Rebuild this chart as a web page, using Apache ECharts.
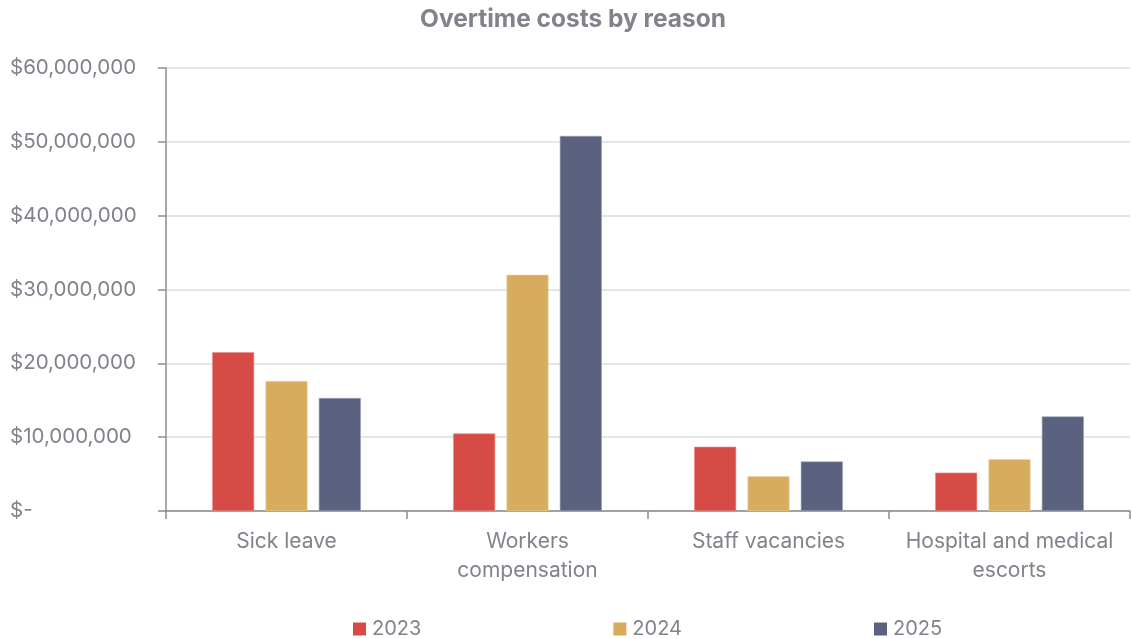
<!DOCTYPE html>
<html>
<head>
<meta charset="utf-8">
<script src="https://cdn.jsdelivr.net/npm/echarts@6/dist/echarts.min.js"></script>
<style>
  html, body { margin: 0; padding: 0; background: #ffffff; }
  #chart { width: 1132px; height: 639px; }
</style>
</head>
<body>
<div id="chart"></div>
<script>
const categories = ['Sick leave', 'Workers\ncompensation', 'Staff vacancies', 'Hospital and medical\nescorts'];
const years = ['2023', '2024', '2025'];
const values2023 = [21500000, 10500000, 8700000, 5200000];
const values2024 = [17600000, 32000000, 4700000, 7000000];
const values2025 = [15300000, 50800000, 6700000, 12800000];
const colors = ['#D64B45', '#D8AC5E', '#5A627F'];

const textColor = '#82828c';
const axisColor = '#8c8c8e';
const fontFamily = 'Inter, "Open Sans", sans-serif';

function money(v) {
  if (v === 0) return '$-';
  return '$' + v.toLocaleString('en-US');
}

const chart = echarts.init(document.getElementById('chart'));
chart.setOption({
  backgroundColor: '#ffffff',
  animation: false,
  color: colors,
  title: {
    text: 'Overtime costs by reason',
    left: 420,
    top: 7,
    padding: 0,
    textStyle: { color: textColor, fontSize: 24.5, fontWeight: 'bold', fontFamily: fontFamily }
  },
  legend: {
    left: 353,
    top: 619,
    padding: 0,
    itemWidth: 13,
    itemHeight: 13,
    itemGap: 192,
    icon: 'rect',
    itemStyle: { borderWidth: 0 },
    textStyle: { color: textColor, fontSize: 20, fontFamily: fontFamily, padding: [0, 0, 0, 1] },
    data: years
  },
  grid: { left: 166, right: 2, top: 68, bottom: 128, containLabel: false },
  xAxis: {
    type: 'category',
    data: categories,
    boundaryGap: true,
    axisLine: { show: true, lineStyle: { color: axisColor, width: 1.5 } },
    axisTick: { show: true, length: 8, lineStyle: { color: axisColor, width: 1.5 } },
    axisLabel: {
      color: textColor, fontSize: 21, fontFamily: fontFamily,
      margin: 16, lineHeight: 29, interval: 0
    },
    splitLine: { show: false }
  },
  yAxis: {
    type: 'value',
    min: 0,
    max: 60000000,
    interval: 10000000,
    axisLine: { show: true, lineStyle: { color: axisColor, width: 1.5 } },
    axisTick: { show: true, length: 8, lineStyle: { color: axisColor, width: 1.5 } },
    axisLabel: {
      color: textColor, fontSize: 20.5, fontFamily: fontFamily,
      align: 'left', margin: 156,
      formatter: money
    },
    splitLine: { show: true, lineStyle: { color: '#dcdcdc', width: 1.5 } }
  },
  series: [
    { name: years[0], type: 'bar', data: values2023, barWidth: 42, barGap: '27%', itemStyle: { borderColor: '#e88a86', borderWidth: 0.6 } },
    { name: years[1], type: 'bar', data: values2024, barWidth: 42, barGap: '27%', itemStyle: { borderColor: '#ecd09c', borderWidth: 0.6 } },
    { name: years[2], type: 'bar', data: values2025, barWidth: 42, barGap: '27%', itemStyle: { borderColor: '#9aa0b6', borderWidth: 0.6 } }
  ]
});
</script>
</body>
</html>
